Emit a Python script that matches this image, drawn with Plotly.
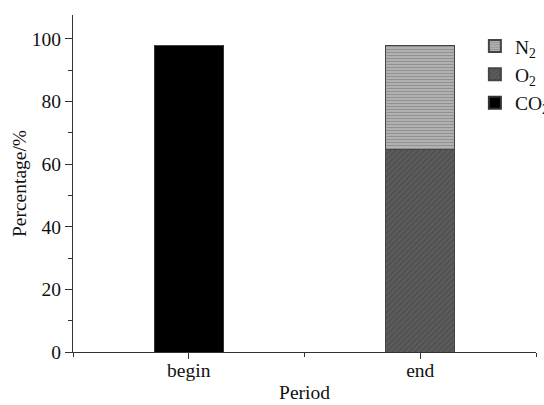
import plotly.graph_objects as go

periods = ["begin", "end"]
period_pos = [0, 1]
co2 = [98, 0]
o2 = [0, 64.5]
n2 = [0, 33.5]

FONT = "Liberation Serif, Times New Roman, serif"
FS = 19.5
AX = "#333333"

fig = go.Figure()
fig.add_trace(go.Bar(
    x=period_pos, y=co2, name="CO<sub>2</sub>", width=0.3,
    marker=dict(color="#000000", line=dict(color="#333333", width=1)),
))
fig.add_trace(go.Bar(
    x=period_pos, y=o2, name="O<sub>2</sub>", width=0.3,
    marker=dict(color="#5a5a5a", line=dict(color="#444444", width=1),
                pattern=dict(shape="/", bgcolor="#5c5c5c", fgcolor="#3a3a3a",
                             size=4, solidity=0.3, fillmode="overlay")),
))
fig.add_trace(go.Bar(
    x=period_pos, y=n2, name="N<sub>2</sub>", width=0.3,
    marker=dict(color="#a8a8a8", line=dict(color="#444444", width=1),
                pattern=dict(shape="-", bgcolor="#b4b4b4", fgcolor="#707070",
                             size=3, solidity=0.4, fillmode="overlay")),
))

fig.update_layout(
    width=544, height=405,
    barmode="stack",
    paper_bgcolor="white", plot_bgcolor="white",
    margin=dict(l=73, r=8, t=15, b=53, autoexpand=False),
    font=dict(family=FONT, size=FS, color="#111111"),
    showlegend=True,
    legend=dict(x=0.868, y=0.965, xanchor="left", yanchor="top",
                traceorder="reversed", bgcolor="rgba(0,0,0,0)",
                font=dict(family=FONT, size=FS), itemsizing="constant",
                tracegroupgap=0),
    xaxis=dict(
        range=[-0.5, 1.5], tickvals=period_pos, ticktext=periods,
        showline=True, linecolor=AX, linewidth=1, mirror=False, automargin=False,
        ticks="outside", ticklen=6, tickcolor=AX, showgrid=False, zeroline=False,
        ticklabelstandoff=-5,
        minor=dict(tickvals=[-0.5, 0.5, 1.5], ticks="outside", ticklen=4, tickcolor=AX),
        title=dict(text="Period", font=dict(family=FONT, size=FS), standoff=4),
        tickfont=dict(family=FONT, size=FS),
    ),
    yaxis=dict(
        range=[0, 107.6], tickvals=[0, 20, 40, 60, 80, 100],
        showline=True, linecolor=AX, linewidth=1, automargin=False,
        ticks="outside", ticklen=7, tickcolor=AX, showgrid=False, zeroline=False,
        minor=dict(dtick=10, ticks="outside", ticklen=4, tickcolor=AX),
        title=dict(text="Percentage/%", font=dict(family=FONT, size=FS), standoff=0),
        tickfont=dict(family=FONT, size=FS),
    ),
)

fig.write_html(
    "out.html",
    config={"displayModeBar": False},
    post_script="document.body.style.margin='0';document.body.style.padding='0';",
)
